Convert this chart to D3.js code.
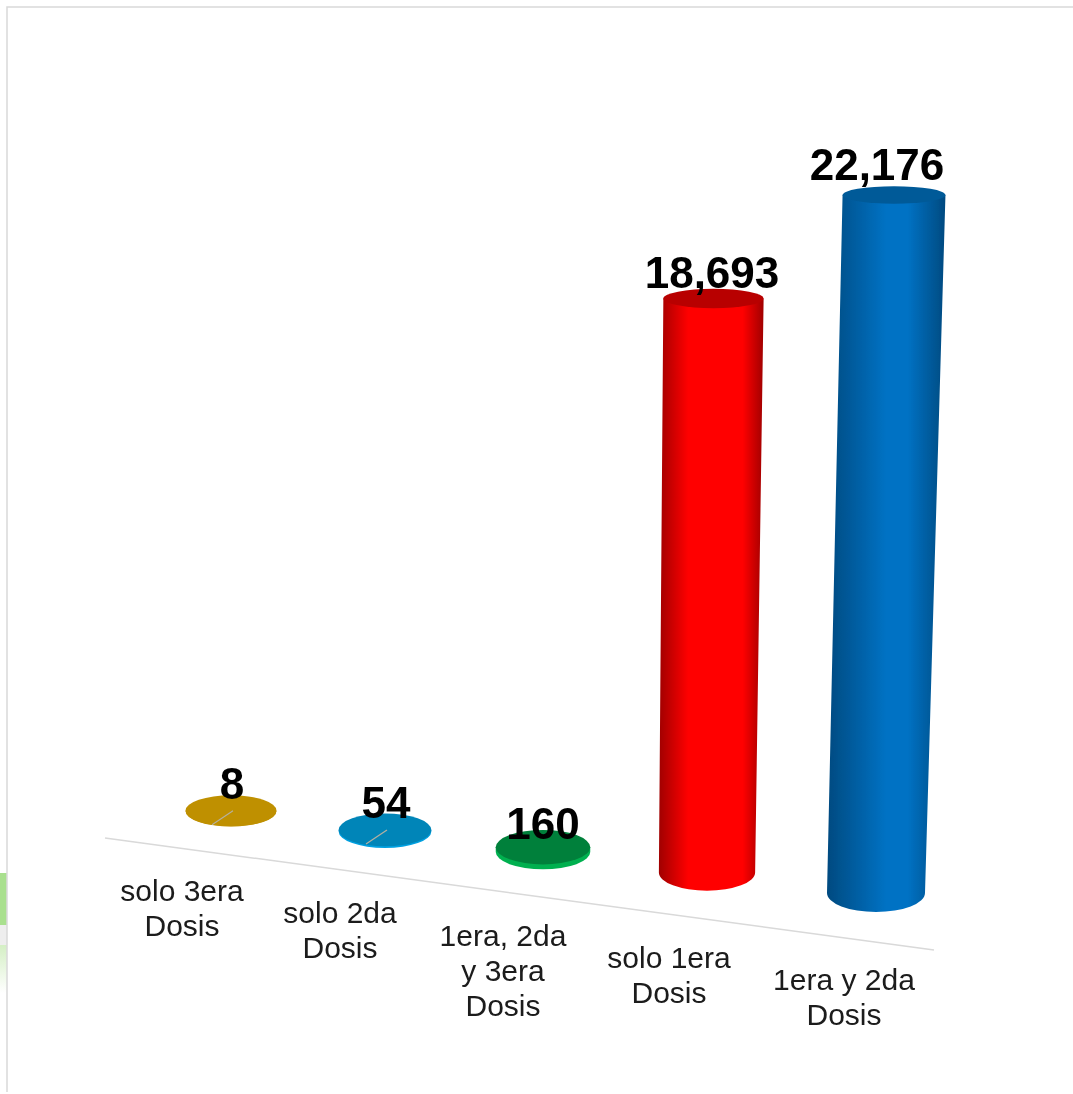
<!DOCTYPE html>
<html>
<head>
<meta charset="utf-8">
<script src="https://cdn.jsdelivr.net/npm/d3@7"></script>
<style>
html, body { margin: 0; padding: 0; background: #fff; overflow: hidden; }
text { font-family: "Liberation Sans", Arial, sans-serif; }
</style>
</head>
<body>
<svg id="chart-svg" width="1073" height="1094"></svg>
<script>
const categories = [
    ['solo 3era', 'Dosis'],
    ['solo 2da', 'Dosis'],
    ['1era, 2da', 'y 3era', 'Dosis'],
    ['solo 1era', 'Dosis'],
    ['1era y 2da', 'Dosis']
];
const values = [8, 54, 160, 18693, 22176];
const topColors = ['#bf9000', '#0085b8', '#00803a', '#b80000', '#005a98'];
const edgeColors = ['#bf9000', '#00a0e0', '#00b050', '#a00000', '#004a80'];
const midColors = ['#bf9000', '#00a0e0', '#00b050', '#ff0000', '#0072c4'];

const idx = d3.range(values.length);

let svg = d3.select('#chart-svg');
let defs = svg.append('defs');

// reference is a slightly soft screenshot
let soft = defs.append('filter').attr('id', 'soft')
    .attr('filterUnits', 'userSpaceOnUse')
    .attr('x', 0).attr('y', 0).attr('width', 1073).attr('height', 1094);
soft.append('feGaussianBlur').attr('stdDeviation', 0.5);

let root = svg.append('g').attr('filter', 'url(#soft)');

// the slanted floor, each category sits further down and right
let xBase = d3.scaleLinear().domain(idx).range([231, 385, 543, 707, 876]);
let yBase = d3.scaleLinear().domain([0, 4]).range([811, 893]);
let rxBase = d3.scaleLinear().domain([0, 4]).range([45.5, 49]);
let ryBase = d3.scaleLinear().domain([0, 4]).range([15.5, 19]);

// px per unit grows towards the viewer
let unitScale = d3.scaleLinear().domain([3, 4]).range([574 / 18693, 698 / 22176]);
let leanScale = d3.scaleLinear().domain([707, 876]).range([0.0113, 0.0258]);

let xLabel = d3.scaleLinear().domain(idx).range([182, 340, 503, 669, 844]);
let yLabel = d3.scaleLinear().domain([0, 4]).range([901, 990]);
let xValue = d3.scaleLinear().domain(idx).range([232, 386, 543, 712, 877]);
let valueGap = d3.scaleLinear().domain(idx).range([12, 12, 8, 11, 15]);

function barHeight(i) {
    return values[i] * unitScale(i);
}

// page edge behind the chart
let bgFade = defs.append('linearGradient').attr('id', 'bg-fade')
    .attr('x1', 0).attr('y1', 0).attr('x2', 0).attr('y2', 1);
bgFade.append('stop').attr('offset', 0).attr('stop-color', '#d4efc4');
bgFade.append('stop').attr('offset', 1).attr('stop-color', '#ffffff');

root.append('rect').attr('x', 0).attr('y', 873).attr('width', 7).attr('height', 52).attr('fill', '#a9e08e');
root.append('rect').attr('x', 0).attr('y', 925).attr('width', 7).attr('height', 20).attr('fill', '#eeeeee');
root.append('rect').attr('x', 0).attr('y', 945).attr('width', 7).attr('height', 48).attr('fill', 'url(#bg-fade)');

root.append('path')
    .attr('d', 'M1073,7H7V1092')
    .attr('fill', 'none')
    .attr('stroke', '#d9d9d9')
    .attr('stroke-width', 1.5);

// floor line
root.append('line')
    .attr('x1', 105).attr('y1', 838)
    .attr('x2', 934).attr('y2', 950)
    .attr('stroke', '#d9d9d9')
    .attr('stroke-width', 1.5);

idx.forEach(i => {
    let grad = defs.append('linearGradient').attr('id', 'side-' + i)
        .attr('x1', 0).attr('y1', 0).attr('x2', 1).attr('y2', 0);
    grad.append('stop').attr('offset', 0).attr('stop-color', edgeColors[i]);
    grad.append('stop').attr('offset', i == 4 ? 0.5 : 0.28).attr('stop-color', midColors[i]);
    grad.append('stop').attr('offset', i == 4 ? 0.68 : 0.8).attr('stop-color', midColors[i]);
    grad.append('stop').attr('offset', 1).attr('stop-color', edgeColors[i]);
});

let bars = root.selectAll('g.bar').data(idx).enter().append('g').attr('class', 'bar');

bars.each(function(i) {
    let g = d3.select(this);
    let cx = xBase(i), cy = yBase(i);
    let rx = rxBase(i), ry = ryBase(i);
    let h = barHeight(i);
    let tx = cx + h * leanScale(cx), ty = cy - h;
    let rxTop = rx + h * 0.0035;
    let ryTop = ry - h * 0.0148;

    let side = 'M' + (cx - rx) + ',' + cy
        + 'A' + rx + ',' + ry + ' 0 0 0 ' + (cx + rx) + ',' + cy
        + 'L' + (tx + rxTop) + ',' + ty
        + 'L' + (tx - rxTop) + ',' + ty + 'Z';
    g.append('path').attr('d', side).attr('fill', 'url(#side-' + i + ')');

    g.append('ellipse')
        .attr('cx', tx).attr('cy', ty)
        .attr('rx', rxTop).attr('ry', ryTop)
        .attr('fill', topColors[i]);

    // the two flattest bars carry a leader line to their label
    if (values[i] < 100) {
        g.append('line')
            .attr('x1', tx + 2).attr('y1', ty)
            .attr('x2', tx - 19).attr('y2', ty + 14)
            .attr('stroke', '#b5b0a0')
            .attr('stroke-width', 1.2);
    }
});

let fmt = d3.format(',');

root.selectAll('text.value').data(idx).enter().append('text')
    .attr('class', 'value')
    .attr('x', i => xValue(i))
    .attr('y', i => yBase(i) - barHeight(i) - valueGap(i))
    .attr('text-anchor', 'middle')
    .attr('font-size', 44)
    .attr('font-weight', 'bold')
    .attr('fill', '#000')
    .text(i => fmt(values[i]));

let labels = root.selectAll('text.cat').data(idx).enter().append('text')
    .attr('class', 'cat')
    .attr('text-anchor', 'middle')
    .attr('font-size', 30)
    .attr('fill', '#1a1a1a');

labels.selectAll('tspan').data(i => categories[i].map(t => ({ t: t, i: i }))).enter().append('tspan')
    .attr('x', d => xLabel(d.i))
    .attr('y', (d, j) => yLabel(d.i) + j * 35)
    .text(d => d.t);
</script>
</body>
</html>
